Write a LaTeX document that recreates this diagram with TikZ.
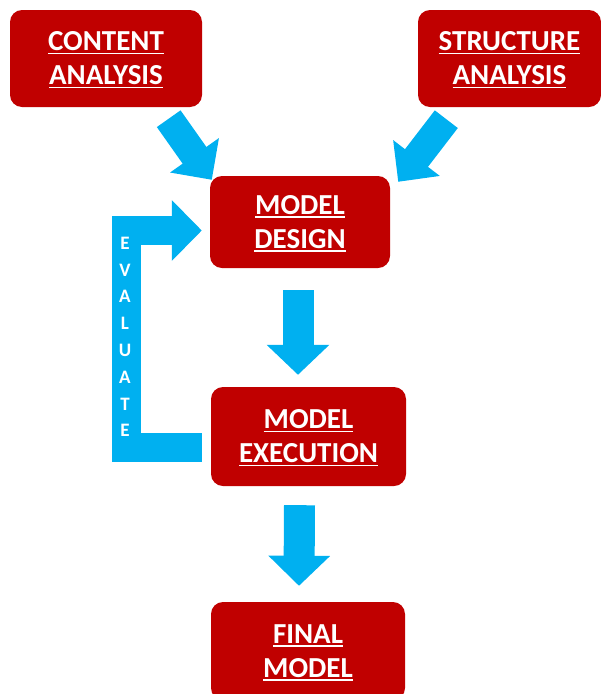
\documentclass[tikz,border=0pt]{standalone}
\usepackage{fontspec}
\setmainfont{Carlito}
\usetikzlibrary{arrows.meta,calc}
\definecolor{boxred}{HTML}{C00000}
\definecolor{arrowblue}{HTML}{00B0F0}
% white underline below a word
\newcommand{\ulword}[1]{\setbox0\hbox{#1}\leavevmode\rlap{\smash{\rule[-3.5pt]{\wd0}{1.6pt}}}\box0}

\begin{document}
\begin{tikzpicture}[x=1pt, y=-1pt,
    redbox/.style={fill=boxred, rounded corners=12pt, inner sep=0pt, align=center, text=white, font=\fontsize{29}{34}\selectfont\bfseries},
    bluearrow/.style={draw=arrowblue, line width=30pt, -{Triangle[length=30pt, width=60pt]}}]
        \clip (0,0) rectangle (601,694);
        \node[redbox, minimum width=192pt, minimum height=97pt] (content) at (106,58.5) {\ulword{CONTENT}\\\ulword{ANALYSIS}};
        \node[redbox, minimum width=183pt, minimum height=97pt] (structure) at (509.5,58.5) {\ulword{STRUCTURE}\\\ulword{ANALYSIS}};
        \node[redbox, minimum width=180pt, minimum height=92pt] (design) at (300,222) {\ulword{MODEL}\\\ulword{DESIGN}};
        \node[redbox, minimum width=195pt, minimum height=99pt] (execution) at (308.5,436.5) {\ulword{MODEL}\\\ulword{EXECUTION}};
        \node[redbox, minimum width=194pt, minimum height=98pt] (final) at (308,651) {\ulword{FINAL}\\\ulword{MODEL}};
        \coordinate (evalbend) at (126.5,230.5);
        \draw[bluearrow, line width=29pt, -{Triangle[length=30pt, width=58pt]}] ([xshift=-33.5pt, yshift=-11.5pt]content.south east) -- ([xshift=2pt, yshift=-4pt]design.north west);
        \draw[bluearrow, line width=29pt, -{Triangle[length=30pt, width=57pt]}] ([xshift=28.5pt, yshift=-12pt]structure.south west) -- ([xshift=8pt, yshift=-6pt]design.north east);
        \draw[bluearrow, line width=31pt, -{Triangle[length=30pt, width=61pt]}] ([xshift=-2pt, yshift=-22pt]design.south) -- ([xshift=-10.5pt, yshift=12pt]execution.north);
        \draw[bluearrow, line width=31pt, -{Triangle[length=30pt, width=60pt]}] ([xshift=-9pt, yshift=-19pt]execution.south) -- ([xshift=-9pt, yshift=16pt]final.north);
        \draw[bluearrow, line width=29pt, line join=miter, -{Triangle[length=30pt, width=59pt]}] ([xshift=-9pt, yshift=-11pt]execution.west) -| (evalbend) -- ($(evalbend -| design.west)+(-8,0)$);
        \node[inner sep=0pt, align=center, text=white, font=\fontsize{19}{26.8}\selectfont\bfseries] (evaltext) at (125,337) {E\\V\\A\\L\\U\\A\\T\\E};
    \end{tikzpicture}
\end{document}
